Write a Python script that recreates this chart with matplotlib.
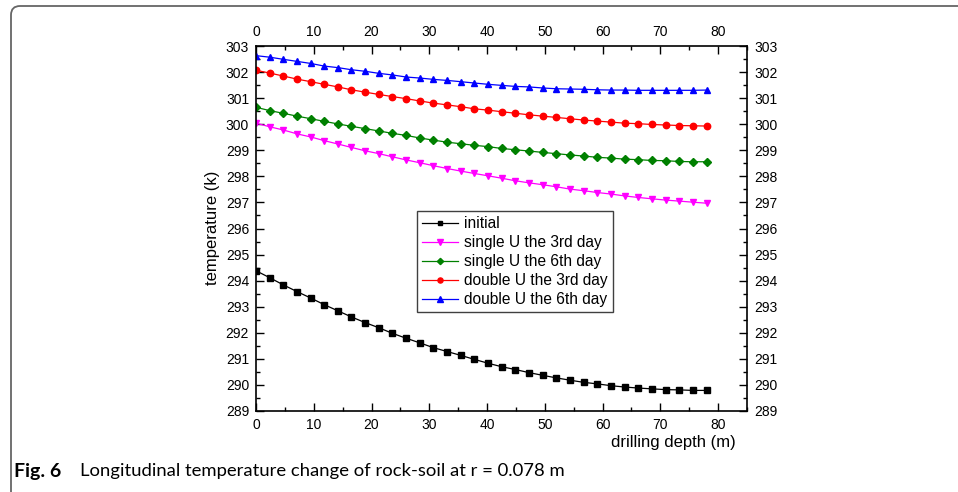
#!/usr/bin/env python3
"""Longitudinal temperature change of rock-soil at r = 0.078 m (Fig. 6)."""

import matplotlib
matplotlib.use("Agg")
import matplotlib.pyplot as plt
from matplotlib.patches import PathPatch
from matplotlib.path import Path
from matplotlib.ticker import MultipleLocator
from matplotlib.transforms import IdentityTransform

plt.rcParams["font.family"] = ["Liberation Sans", "DejaVu Sans"]

# drilling depth (m), 34 nodes
depth = [0.0, 2.4, 4.7, 7.1, 9.5, 11.8, 14.2, 16.5, 18.9, 21.3, 23.6, 26.0,
         28.4, 30.7, 33.1, 35.5, 37.8, 40.2, 42.5, 44.9, 47.3, 49.6, 52.0,
         54.4, 56.7, 59.1, 61.5, 63.8, 66.2, 68.5, 70.9, 73.3, 75.6, 78.0]

# temperature (K)
initial = [294.38, 294.11, 293.84, 293.58, 293.33, 293.08, 292.84, 292.61,
           292.39, 292.19, 291.98, 291.79, 291.61, 291.43, 291.28, 291.13,
           290.98, 290.83, 290.70, 290.59, 290.47, 290.37, 290.27, 290.18,
           290.10, 290.04, 289.97, 289.92, 289.88, 289.85, 289.82, 289.81,
           289.79, 289.79]
single_3 = [300.04, 299.90, 299.78, 299.63, 299.51, 299.37, 299.24, 299.11,
            298.98, 298.87, 298.75, 298.63, 298.52, 298.41, 298.30, 298.20,
            298.11, 298.02, 297.93, 297.83, 297.75, 297.68, 297.60, 297.51,
            297.45, 297.38, 297.32, 297.25, 297.19, 297.14, 297.09, 297.05,
            297.01, 296.97]
single_6 = [300.65, 300.52, 300.42, 300.31, 300.21, 300.11, 300.01, 299.92,
            299.83, 299.74, 299.65, 299.57, 299.47, 299.39, 299.31, 299.25,
            299.19, 299.14, 299.07, 299.02, 298.97, 298.92, 298.87, 298.82,
            298.78, 298.73, 298.70, 298.66, 298.64, 298.61, 298.60, 298.57,
            298.56, 298.56]
double_3 = [302.07, 301.96, 301.85, 301.73, 301.63, 301.53, 301.43, 301.32,
            301.23, 301.14, 301.06, 300.98, 300.89, 300.81, 300.74, 300.67,
            300.59, 300.54, 300.48, 300.42, 300.36, 300.31, 300.26, 300.21,
            300.16, 300.12, 300.08, 300.04, 300.02, 299.99, 299.97, 299.95,
            299.94, 299.93]
double_6 = [302.63, 302.57, 302.49, 302.41, 302.33, 302.23, 302.17, 302.09,
            302.03, 301.95, 301.89, 301.81, 301.77, 301.72, 301.68, 301.63,
            301.58, 301.53, 301.49, 301.45, 301.43, 301.39, 301.36, 301.35,
            301.34, 301.32, 301.31, 301.31, 301.30, 301.30, 301.30, 301.30,
            301.30, 301.31]

series = [
    ("initial", initial, "black", "s", 4.0),
    ("single U the 3rd day", single_3, "#ff00ff", "v", 4.8),
    ("single U the 6th day", single_6, "#008000", "D", 4.0),
    ("double U the 3rd day", double_3, "#ff0000", "o", 4.6),
    ("double U the 6th day", double_6, "#0000ff", "^", 4.8),
]

W, H = 958, 492
fig = plt.figure(figsize=(W / 100, H / 100), dpi=100)
ax = fig.add_axes([256 / W, 1 - 411 / H, 491 / W, 365 / H])

for label, vals, col, mk, ms in series:
    ax.plot(depth, vals, color=col, lw=0.9, marker=mk, ms=ms,
            mec=col, mfc=col, label=label)

ax.set_xlim(0, 85)
ax.set_ylim(289, 303)

for spine in ax.spines.values():
    spine.set_linewidth(1.2)

ax.xaxis.set_major_locator(MultipleLocator(10))
ax.xaxis.set_minor_locator(MultipleLocator(5))
ax.yaxis.set_major_locator(MultipleLocator(1))
ax.yaxis.set_minor_locator(MultipleLocator(0.5))

ax.tick_params(which="both", direction="in", width=1.0, labelsize=10,
               top=True, right=True, labeltop=True, labelright=True)
ax.tick_params(which="major", length=5.5)
ax.tick_params(which="minor", length=3)
ax.tick_params(axis="x", pad=5)
ax.tick_params(axis="y", pad=5)

fig.text(213 / W, 1 - 228 / H, "temperature (k)", rotation=90,
         ha="center", va="center", fontsize=12)
fig.text(736 / W, 1 - 442 / H, "drilling depth (m)", ha="right",
         va="center", fontsize=12)

leg = ax.legend(loc="upper left", bbox_to_anchor=(417 / W, 1 - 211 / H),
                bbox_transform=fig.transFigure, fontsize=11.2, numpoints=1,
                markerscale=0.8, handlelength=2.3, handletextpad=0.4,
                labelspacing=0.26, borderpad=0.32, borderaxespad=0,
                fancybox=False, framealpha=1)
leg.get_frame().set_edgecolor("#404040")
leg.get_frame().set_linewidth(1.0)

# page frame: top and left edges with a rounded corner (pixel coords)
r = 9
verts = [(W + 5, H - 6), (11 + r, H - 6), (11, H - 6), (11, H - 6 - r),
         (11, -5)]
codes = [Path.MOVETO, Path.LINETO, Path.CURVE3, Path.CURVE3, Path.LINETO]
fig.add_artist(PathPatch(Path(verts, codes), transform=IdentityTransform(),
                         fill=False, edgecolor="#666666", lw=1.3))

fig.text(14 / W, 1 - 471 / H, "Fig. 6", fontweight="bold", fontsize=14,
         family=["Lato", "DejaVu Sans"], va="center")
fig.text(80 / W, 1 - 471 / H,
         "Longitudinal temperature change of rock-soil at r = 0.078 m",
         fontsize=13.3, family=["Lato", "DejaVu Sans"], va="center")

fig.savefig("out.png", dpi=100)
